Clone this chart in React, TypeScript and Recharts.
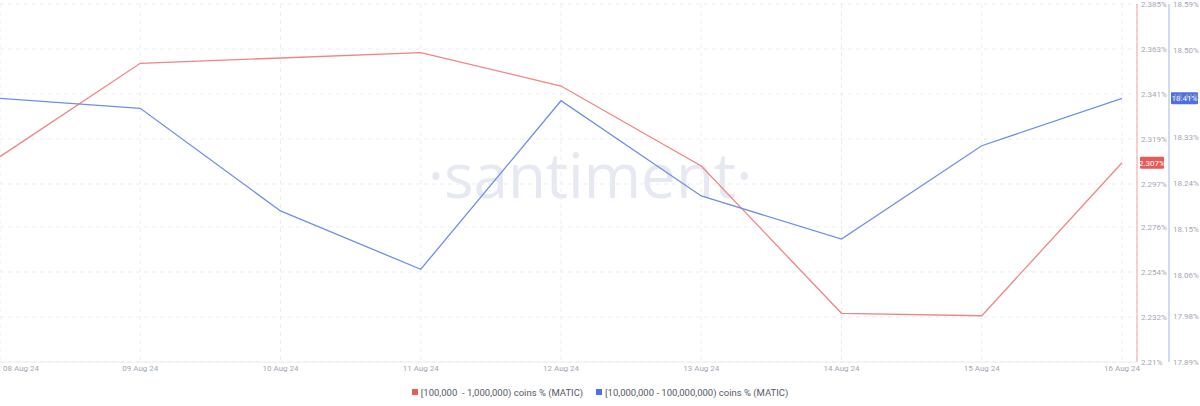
import { CartesianGrid, Legend, Line, LineChart, ReferenceLine, XAxis, YAxis } from 'recharts';

const dates = ['08 Aug 24', '09 Aug 24', '10 Aug 24', '11 Aug 24', '12 Aug 24', '13 Aug 24', '14 Aug 24', '15 Aug 24', '16 Aug 24'];
const midHolders = [2.3104, 2.356, 2.3586, 2.3612, 2.3449, 2.3058, 2.2338, 2.2326, 2.3074];
const whaleHolders = [18.4056, 18.3861, 18.1853, 18.0713, 18.4009, 18.2146, 18.1305, 18.3129, 18.4056];
const midTicks = [2.21, 2.232, 2.254, 2.276, 2.297, 2.319, 2.341, 2.363, 2.385];
const whaleTicks = [17.89, 17.98, 18.06, 18.15, 18.24, 18.33, 18.41, 18.5, 18.59];

const midName = '[100,000  - 1,000,000) coins % (MATIC)';
const whaleName = '[10,000,000 - 100,000,000) coins % (MATIC)';

const RED = '#ef8585';
const BLUE = '#6f8fe6';
const TICK = '#a3a8b4';
const FONT = 'Roboto, "Open Sans", sans-serif';

const data = dates.map((d, i) => ({ date: d, mid: midHolders[i], whale: whaleHolders[i] }));

const DateTick = (props: any) => {
  const { x, y, payload, index } = props;
  const first = index === 0;
  return (
    <text
      x={first ? x + 3 : x}
      y={y}
      dy="0.71em"
      textAnchor={first ? 'start' : 'middle'}
      fill={TICK}
      fontSize={8}
      fontFamily={FONT}
    >
      {payload.value}
    </text>
  );
};

const makeTag = (text: string, bg: string, shift: number, w: number) => (props: any) => {
  const { viewBox } = props;
  const x = viewBox.x + viewBox.width + shift;
  const y = viewBox.y;
  return (
    <g>
      <rect x={x} y={y - 6} width={w} height={12} fill={bg} rx={1} />
      <text x={x + w / 2} y={y} dy="0.35em" textAnchor="middle" fill="#fff" fontSize={8} fontFamily={FONT}>
        {text}
      </text>
    </g>
  );
};

const LegendBox = () => (
  <div
    style={{
      height: 28,
      display: 'flex',
      justifyContent: 'center',
      alignItems: 'center',
      gap: 13,
      fontFamily: FONT,
      fontSize: 9.5,
      color: '#555a66',
      whiteSpace: 'pre',
      paddingLeft: 0,
    }}
  >
    {[
      { name: midName, color: '#e85c5c' },
      { name: whaleName, color: '#4f6fe6' },
    ].map((it) => (
      <div key={it.name} style={{ display: 'flex', alignItems: 'center', gap: 3 }}>
        <span style={{ width: 6, height: 6, background: it.color, display: 'inline-block' }} />
        <span>{it.name}</span>
      </div>
    ))}
  </div>
);

export default function App() {
  const lastMid = midHolders[midHolders.length - 1];
  const lastWhale = whaleHolders[whaleHolders.length - 1];
  return (
    <div style={{ position: 'absolute', left: 0, top: 0, width: 1200, height: 406, background: '#fff' }}>
      <div
        style={{
          position: 'absolute',
          left: 0,
          width: 1180,
          top: 134,
          textAlign: 'center',
          fontFamily: '"Open Sans", sans-serif',
          fontWeight: 400,
          fontSize: 62,
          color: '#e6e9f1',
          lineHeight: '80px',
        }}
      >
        ·santiment·
      </div>
      <LineChart width={1200} height={406} data={data} margin={{ top: 4, right: 0, left: 0, bottom: 0 }} style={{ position: 'absolute', left: 0, top: 0 }}>
        <CartesianGrid yAxisId="mid" stroke="#ebedf1" strokeDasharray="4 4" />
        <XAxis
          dataKey="date"
          height={16}
          padding={{ left: 0, right: 15 }}
          axisLine={{ stroke: '#eceef2' }}
          tickLine={false}
          tickSize={0}
          tickMargin={3}
          interval={0}
          tick={<DateTick />}
        />
        <YAxis
          yAxisId="mid"
          orientation="right"
          width={32}
          domain={[2.21, 2.385]}
          ticks={midTicks}
          tickFormatter={(v: number) => `${v}%`}
          axisLine={{ stroke: '#f3a3a3' }}
          tickLine={false}
          tickSize={0}
          tickMargin={4}
          tick={{ fill: TICK, fontSize: 8, fontFamily: FONT, textAnchor: 'start' }}
        />
        <YAxis
          yAxisId="whale"
          orientation="right"
          width={31}
          domain={[17.89, 18.59]}
          ticks={whaleTicks}
          tickFormatter={(v: number) => `${v.toFixed(2)}%`}
          axisLine={{ stroke: '#a3b5ec' }}
          tickLine={false}
          tickSize={0}
          tickMargin={4}
          tick={{ fill: TICK, fontSize: 8, fontFamily: FONT, textAnchor: 'start' }}
        />
        <Line yAxisId="mid" type="linear" dataKey="mid" name={midName} stroke={RED} strokeWidth={1.3} dot={false} isAnimationActive={false} />
        <Line yAxisId="whale" type="linear" dataKey="whale" name={whaleName} stroke={BLUE} strokeWidth={1.3} dot={false} isAnimationActive={false} />
        <ReferenceLine yAxisId="mid" y={lastMid} stroke="none" label={makeTag(`${lastMid.toFixed(3)}%`, '#e45b5b', 3, 24)} />
        <ReferenceLine yAxisId="whale" y={lastWhale} stroke="none" label={makeTag(`${lastWhale.toFixed(2)}%`, '#4f70e2', 34, 27)} />
        <Legend verticalAlign="bottom" content={<LegendBox />} />
      </LineChart>
    </div>
  );
}
